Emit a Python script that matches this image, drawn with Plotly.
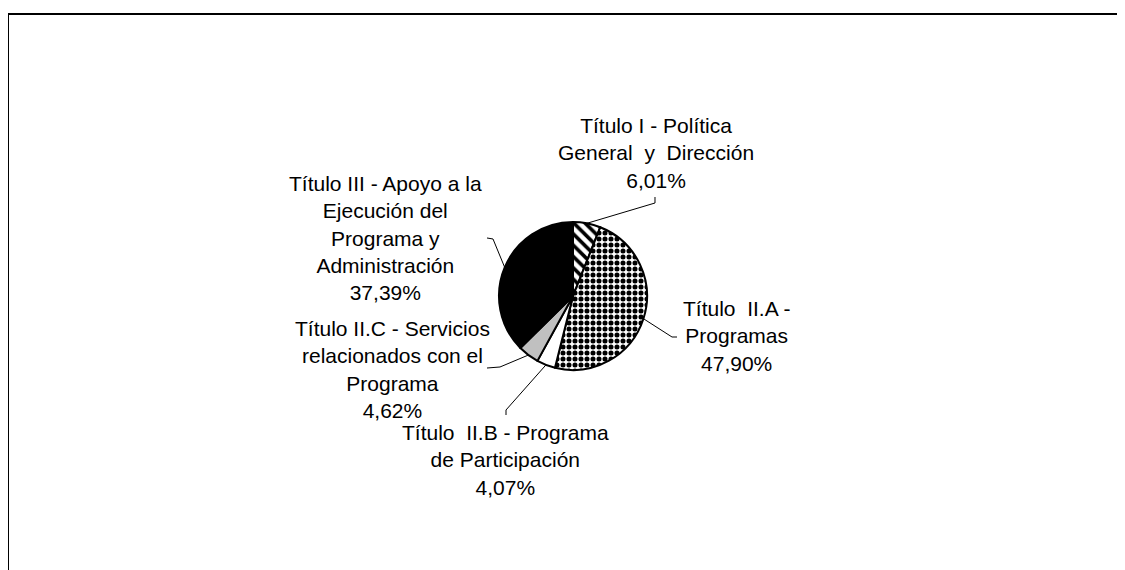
import math
import plotly.graph_objects as go

# ---- data ----
labels = [
    "Título I - Política<br>General\u00a0 y\u00a0 Dirección",
    "Título\u00a0 II.A -<br>Programas",
    "Título\u00a0 II.B - Programa<br>de Participación",
    "Título II.C - Servicios<br>relacionados con el<br>Programa",
    "Título III - Apoyo a la<br>Ejecución del<br>Programa y<br>Administración",
]
values = [6.01, 47.90, 4.07, 4.62, 37.39]
colors = ["white", "white", "white", "#C0C0C0", "black"]
patterns = ["\\", ".", "", "", ""]

# ---- layout (page pixels; the page body has an 8px margin) ----
OFF = 8
W, H = 1125 - OFF, 570 - OFF
cx, cy, R = 573, 296, 74
label_pos = [(656, 153), (736, 336), (505, 460), (392, 369), (385, 238)]
elbows = [
    [(655, 203), (655, 197)],
    [(672, 337), (677, 337)],
    [(506, 410), (506, 415)],
    [(500, 367), (487, 368)],
    [(493, 239), (487, 238)],
]

def px(x):
    return (x - OFF) / W

def py(y):
    return 1 - (y - OFF) / H

fig = go.Figure(go.Pie(
    values=values,
    labels=[l.replace("<br>", " ") for l in labels],
    sort=False,
    direction="clockwise",
    rotation=0,
    textinfo="none",
    hoverinfo="label+percent",
    marker=dict(
        colors=colors,
        line=dict(color="black", width=2),
        pattern=dict(shape=patterns, fgcolor="black", bgcolor=colors,
                     size=[8, 6, 8, 8, 8], solidity=[0.45, 0.55, 0.3, 0.3, 0.3],
                     fillmode="replace"),
    ),
    domain=dict(x=[px(cx - R), px(cx + R)], y=[py(cy + R), py(cy - R)]),
    showlegend=False,
))

shapes = []
annotations = []
total = sum(values)
cum = 0.0
for i, v in enumerate(values):
    mid = (cum + v / 2) / total * 2 * math.pi
    cum += v
    ax = cx + R * math.sin(mid)
    ay = cy - R * math.cos(mid)
    pts = [(ax, ay)] + elbows[i]
    path = "M " + " L ".join(f"{px(x):.5f},{py(y):.5f}" for x, y in pts)
    shapes.append(dict(type="path", path=path, xref="paper", yref="paper",
                       line=dict(color="black", width=1)))
    pct = f"{v:.2f}".replace(".", ",") + "%"
    lx, ly = label_pos[i]
    annotations.append(dict(
        text=labels[i] + "<br>" + pct, x=px(lx), y=py(ly),
        xref="paper", yref="paper", xanchor="center", yanchor="middle",
        align="center", showarrow=False,
        font=dict(family="Liberation Sans, Arial, sans-serif", size=21, color="black"),
    ))

# outer frame (cropped at right and bottom)
shapes.append(dict(type="rect", xref="paper", yref="paper",
                   x0=0.0, y0=-0.05, x1=1.05, y1=py(14),
                   line=dict(color="black", width=2), layer="below"))

fig.update_layout(
    width=W, height=H,
    margin=dict(l=0, r=0, t=0, b=0),
    paper_bgcolor="white", plot_bgcolor="white",
    shapes=shapes, annotations=annotations,
)

fig.write_html("out.html")
